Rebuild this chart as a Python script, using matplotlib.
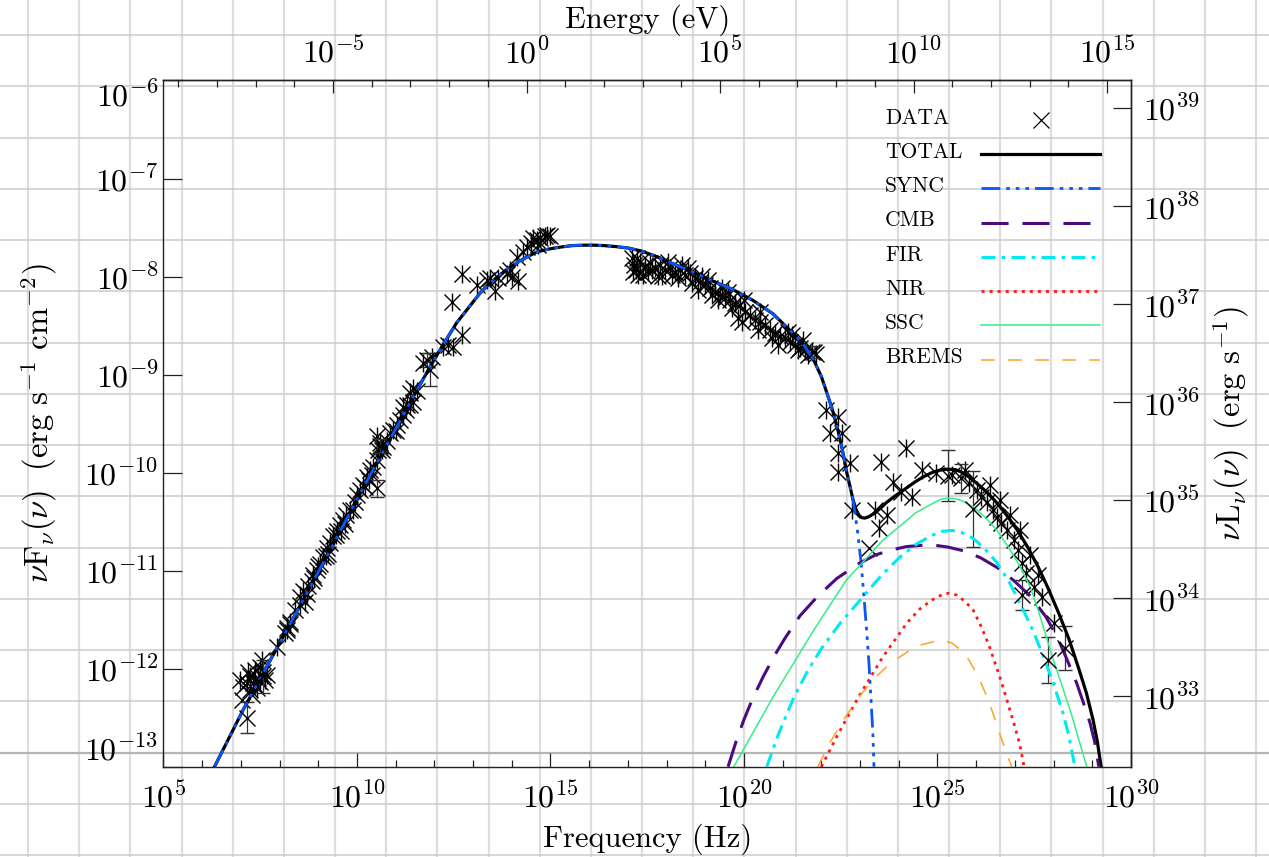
import numpy as np
import matplotlib
matplotlib.use("Agg")
import matplotlib.pyplot as plt
from matplotlib.lines import Line2D
from matplotlib.ticker import FixedLocator, FuncFormatter, NullFormatter, NullLocator

plt.rcParams['font.family'] = ['cmr10', 'DejaVu Serif']
plt.rcParams['mathtext.fontset'] = 'cm'
plt.rcParams['axes.unicode_minus'] = False
plt.rcParams['axes.formatter.use_mathtext'] = True
plt.rcParams['lines.scale_dashes'] = False

PLANCK_EV = 4.1357e-15      # eV s
LOG_4PI_D2 = 45.28          # log10(4 pi d^2), cm^2

# model curves, log10(nu / Hz) and log10(nu F_nu / erg s^-1 cm^-2)
total_lognu = [6.32, 7.06, 8.14, 9.35, 10.03, 10.77, 11.41, 11.89, 12.25, 12.58, 12.90, 13.18,
               13.40, 13.61, 13.90, 14.21, 14.64, 14.95, 15.25, 15.55, 15.86, 16.13, 16.40,
               16.70, 17.02, 17.35, 17.70, 18.11, 18.60, 19.16, 19.70, 20.22, 20.75, 21.27,
               21.55, 21.80, 22.00, 22.12, 22.28, 22.43, 22.54, 22.64, 22.74, 22.82, 22.90,
               22.98, 23.05, 23.12, 23.25, 23.39, 23.55, 23.70, 23.90, 24.12, 24.44, 24.65,
               24.86, 25.06, 25.27, 25.45, 25.60, 25.80, 26.02, 26.28, 26.54, 26.80, 27.07,
               27.33, 27.60, 27.86, 28.13, 28.40, 28.66, 28.85, 29.02, 29.13, 29.23]
total_logf = [-13.00, -12.42, -11.64, -10.76, -10.25, -9.72, -9.26, -8.92, -8.68, -8.47, -8.31,
              -8.17, -8.08, -8.01, -7.92, -7.84, -7.75, -7.72, -7.70, -7.685, -7.68, -7.68,
              -7.685, -7.695, -7.71, -7.74, -7.79, -7.86, -7.94, -8.04, -8.13, -8.24, -8.38,
              -8.58, -8.70, -8.85, -9.02, -9.16, -9.35, -9.57, -9.76, -9.97, -10.14, -10.28,
              -10.38, -10.44, -10.46, -10.465, -10.445, -10.41, -10.355, -10.30, -10.24,
              -10.18, -10.09, -10.04, -10.00, -9.975, -9.965, -9.97, -9.99, -10.04, -10.11,
              -10.20, -10.31, -10.44, -10.59, -10.76, -10.96, -11.18, -11.43, -11.70, -12.01,
              -12.25, -12.52, -12.74, -13.00]

sync_lognu = [6.32, 7.06, 8.14, 9.35, 10.03, 10.77, 11.41, 11.89, 12.25, 12.58, 12.90, 13.18,
              13.40, 13.61, 13.90, 14.21, 14.64, 14.95, 15.25, 15.55, 15.86, 16.13, 16.40,
              16.70, 17.02, 17.35, 17.70, 18.11, 18.60, 19.16, 19.70, 20.22, 20.75, 21.27,
              21.55, 21.80, 22.00, 22.12, 22.28, 22.43, 22.54, 22.64, 22.74, 22.82, 22.93,
              23.03, 23.10, 23.17, 23.23, 23.28, 23.33, 23.36]
sync_logf = [-13.00, -12.42, -11.64, -10.76, -10.25, -9.72, -9.26, -8.92, -8.68, -8.47, -8.31,
             -8.17, -8.08, -8.01, -7.92, -7.84, -7.75, -7.72, -7.70, -7.685, -7.68, -7.68,
             -7.685, -7.695, -7.71, -7.74, -7.79, -7.86, -7.94, -8.04, -8.13, -8.24, -8.38,
             -8.58, -8.70, -8.85, -9.02, -9.16, -9.35, -9.57, -9.76, -9.97, -10.14, -10.28,
             -10.58, -10.93, -11.26, -11.61, -11.94, -12.29, -12.65, -13.00]

cmb_lognu = [19.59, 19.80, 20.00, 20.22, 20.50, 20.80, 21.06, 21.45, 21.91, 22.40, 22.96,
             23.40, 23.80, 24.20, 24.65, 25.00, 25.27, 25.70, 26.12, 26.55, 26.97, 27.40,
             27.80, 28.10, 28.34, 28.60, 28.80, 28.94, 29.06, 29.17]
cmb_logf = [-13.00, -12.74, -12.52, -12.31, -12.08, -11.86, -11.69, -11.46, -11.26, -11.08,
            -10.93, -10.84, -10.79, -10.755, -10.74, -10.745, -10.76, -10.80, -10.87, -10.97,
            -11.10, -11.26, -11.47, -11.68, -11.90, -12.15, -12.38, -12.55, -12.74, -13.00]

fir_lognu = [20.59, 20.90, 21.27, 21.65, 22.01, 22.50, 23.07, 23.55, 24.01, 24.45, 24.86,
             25.12, 25.38, 25.65, 25.92, 26.23, 26.54, 26.86, 27.18, 27.50, 27.80, 28.03,
             28.24, 28.40, 28.55]
fir_logf = [-13.00, -12.66, -12.31, -12.02, -11.79, -11.53, -11.27, -11.05, -10.87, -10.73,
            -10.64, -10.60, -10.59, -10.615, -10.67, -10.78, -10.92, -11.12, -11.37, -11.64,
            -11.94, -12.19, -12.45, -12.69, -13.00]

nir_lognu = [22.00, 22.43, 22.96, 23.59, 24.22, 24.55, 24.86, 25.12, 25.30, 25.50, 25.70,
             25.92, 26.13, 26.33, 26.65, 26.97, 27.12, 27.24]
nir_logf = [-13.00, -12.67, -12.29, -11.88, -11.53, -11.39, -11.30, -11.245, -11.23, -11.25,
            -11.31, -11.40, -11.57, -11.76, -12.13, -12.55, -12.76, -13.00]

ssc_lognu = [19.74, 20.75, 21.80, 22.64, 23.59, 24.44, 24.85, 25.10, 25.27, 25.45, 25.65,
             25.92, 26.22, 26.54, 26.85, 27.18, 27.40, 27.60, 27.80, 28.02, 28.25, 28.45,
             28.68, 28.86]
ssc_logf = [-13.00, -12.29, -11.61, -11.10, -10.69, -10.41, -10.32, -10.27, -10.26, -10.265,
            -10.29, -10.35, -10.45, -10.59, -10.77, -10.99, -11.17, -11.40, -11.66, -11.94,
            -12.21, -12.45, -12.76, -13.00]

brems_lognu = [21.91, 22.20, 22.53, 22.95, 23.39, 23.80, 24.22, 24.60, 24.96, 25.17, 25.38,
               25.60, 25.81, 26.03, 26.23, 26.43, 26.64, 26.80, 26.92]
brems_logf = [-13.00, -12.77, -12.55, -12.30, -12.09, -11.94, -11.83, -11.755, -11.72, -11.715,
              -11.74, -11.81, -11.91, -12.06, -12.24, -12.45, -12.70, -12.88, -13.00]

# measurements (asterisk-like points)
data_lognu = [6.98, 7.24, 7.36, 7.49, 7.57, 7.42, 7.24, 7.16, 7.62, 7.67, 7.55, 7.31, 7.44,
              7.19, 7.36, 7.49, 7.93, 8.14, 8.19, 8.27, 8.53, 8.66,
              8.18, 8.27, 8.53, 8.61, 8.74, 8.83, 8.87, 8.96, 9.04, 9.13, 9.22, 9.30, 9.39,
              9.48, 9.56, 9.65, 9.73, 9.82, 9.95, 10.08, 10.16, 10.25, 10.34, 10.42, 10.51,
              10.55, 10.59, 10.51, 10.68, 10.77, 10.85, 10.94, 11.03, 11.11, 11.20, 11.28,
              11.37, 11.45, 8.90, 9.20, 9.60, 9.90, 10.20, 10.40,
              8.40, 8.70, 9.00, 9.25, 9.45, 9.70, 10.00, 10.30, 10.65, 11.00, 11.30,
              11.20, 11.37, 11.45, 11.54, 11.71, 11.93, 12.23, 12.36, 12.49, 12.71, 12.45,
              12.71, 13.09, 13.35, 13.44, 13.57, 13.65, 13.87, 13.95, 14.00, 14.17, 14.13,
              14.30, 14.39, 14.51, 14.64, 14.73, 14.86, 14.90, 14.99, 14.56, 14.68,
              17.11, 17.16, 17.21, 17.31, 17.44, 17.57, 17.70, 17.83, 17.96, 18.09, 18.22,
              18.35, 18.48, 18.60, 18.73, 18.86, 18.99, 19.12, 19.25, 19.38, 19.51, 19.64,
              19.77, 19.90, 19.85, 19.95, 20.16, 20.28, 20.41, 20.54, 20.67, 20.80, 20.93,
              21.06, 21.19, 21.32, 21.45, 21.58, 21.76, 21.86,
              17.26, 17.52, 17.78, 18.04, 18.29, 18.55, 18.81, 19.07, 19.33, 19.59, 20.03,
              20.36, 20.72, 21.14, 21.40, 21.65,
              17.13, 17.24, 17.39, 17.62, 17.88, 18.14, 18.40, 18.66, 18.91, 19.17, 19.43,
              19.69, 20.00, 20.41, 20.88, 21.24, 21.52,
              22.12, 22.22, 22.43, 22.53, 22.43, 22.74, 22.43, 22.80, 23.39, 23.49, 23.70,
              23.54, 23.85, 24.06, 24.33, 24.19, 24.60, 24.96, 25.38, 25.71, 25.81, 26.02,
              26.12, 26.28, 26.36, 26.43, 26.54, 26.62, 26.64, 26.81, 26.87, 26.97, 27.07,
              27.13, 27.18, 27.29, 27.39, 27.49, 27.60, 27.70, 28.02]
data_logf = [-12.12, -12.08, -12.01, -11.98, -12.03, -12.20, -12.22, -12.15, -12.12, -12.06,
             -11.91, -12.15, -12.10, -12.03, -12.17, -12.14, -11.78, -11.64, -11.59, -11.52,
             -11.35, -11.32,
             -11.61, -11.54, -11.27, -11.21, -11.16, -11.11, -11.04, -10.99, -10.93, -10.86,
             -10.77, -10.72, -10.65, -10.60, -10.53, -10.48, -10.43, -10.38, -10.30, -10.18,
             -10.13, -10.04, -9.97, -9.94, -9.87, -9.77, -9.70, -9.63, -9.74, -9.68, -9.60,
             -9.57, -9.51, -9.46, -9.41, -9.36, -9.31, -9.28, -11.08, -10.85, -10.60, -10.38,
             -10.15, -10.02,
             -11.40, -11.24, -10.95, -10.83, -10.64, -10.52, -10.23, -10.08, -9.77, -9.58, -9.31,
             -9.33, -9.19, -9.14, -9.17, -8.88, -8.82, -8.72, -8.70, -8.72, -8.60, -8.26,
             -7.97, -8.09, -8.04, -8.02, -8.15, -8.02, -7.97, -7.93, -8.00, -8.05, -7.80,
             -7.75, -7.70, -7.66, -7.63, -7.61, -7.59, -7.58, -7.59, -7.61, -7.68,
             -7.81, -7.88, -7.93, -7.85, -7.89, -7.86, -7.91, -7.88, -7.93, -7.91, -7.95,
             -7.93, -7.98, -7.96, -8.01, -8.06, -8.09, -8.12, -8.16, -8.19, -8.22, -8.24,
             -8.27, -8.29, -8.42, -8.46, -8.39, -8.44, -8.46, -8.49, -8.55, -8.58, -8.61,
             -8.63, -8.67, -8.70, -8.73, -8.75, -8.77, -8.79,
             -7.98, -7.95, -7.99, -7.85, -8.01, -7.91, -8.14, -8.04, -8.24, -8.16, -8.36,
             -8.55, -8.63, -8.57, -8.75, -8.80,
             -7.95, -7.81, -7.98, -7.93, -7.99, -7.98, -7.88, -8.07, -7.99, -8.19, -8.12,
             -8.32, -8.24, -8.36, -8.70, -8.60, -8.65,
             -9.36, -9.60, -9.43, -9.60, -9.80, -9.90, -9.99, -10.38, -10.38, -10.57, -10.43,
             -9.89, -10.10, -10.20, -10.25, -9.75, -9.97, -10.00, -10.02, -9.97, -10.11,
             -10.18, -10.25, -10.30, -10.13, -10.38, -10.45, -10.28, -10.51, -10.59, -10.43,
             -10.69, -10.79, -10.59, -10.92, -11.02, -10.84, -11.17, -11.04, -11.27, -11.53]

# plain cross points
cross_lognu = [7.05, 7.03, 7.29, 23.23]
cross_logf = [-12.19, -12.32, -12.27, -10.77]

# points drawn with error bars (half-width in dex)
err_lognu = [7.15, 7.58, 10.51, 10.59, 11.80, 11.89, 21.80, 25.27, 25.60, 25.92, 27.18,
             27.86, 28.29]
err_logf = [-12.50, -12.08, -10.16, -9.73, -8.85, -8.95, -8.77, -10.03, -10.06, -10.37,
            -11.25, -11.91, -11.79]
err_dex = [0.155, 0.17, 0.085, 0.07, 0.07, 0.17, 0.06, 0.26, 0.15, 0.39, 0.15, 0.235, 0.22]

legend_labels = ['DATA', 'TOTAL', 'SYNC', 'CMB', 'FIR', 'NIR', 'SSC', 'BREMS']


def pow10(v, pos):
    return r'$10^{%d}$' % int(round(np.log10(v)))


def main():
    fig = plt.figure(figsize=(12.69, 8.57), dpi=100)

    # graph-paper background
    for k in range(25):
        x = (28 + 51.17 * k) / 1269
        fig.add_artist(Line2D([x, x], [0, 1], transform=fig.transFigure,
                              color='#dddddd', lw=1.6, zorder=-5))
    for k in range(17):
        y = 1 - (35 + 51.25 * k) / 857
        c, w = ('#b4b4b4', 1.6) if k == 14 else ('#cbcbcb', 1.1)
        fig.add_artist(Line2D([0, 1], [y, y], transform=fig.transFigure,
                              color=c, lw=w, zorder=-5))

    ax = fig.add_axes([0.1288, 0.1054, 0.7624, 0.8007])
    ax.set_facecolor('none')
    ax.set_xscale('log')
    ax.set_yscale('log')

    # data
    dn, df = 10.0 ** np.array(data_lognu), 10.0 ** np.array(data_logf)
    ax.plot(dn, df, ls='none', marker='x', ms=12, mew=1.0, color='k')
    ax.plot(dn, df, ls='none', marker='|', ms=13.5, mew=1.0, color='k')
    ax.plot(10.0 ** np.array(cross_lognu), 10.0 ** np.array(cross_logf), ls='none',
            marker='x', ms=12, mew=1.0, color='k')
    en = 10.0 ** np.array(err_lognu)
    ef = 10.0 ** np.array(err_logf)
    lo = ef - 10.0 ** (np.array(err_logf) - np.array(err_dex))
    hi = 10.0 ** (np.array(err_logf) + np.array(err_dex)) - ef
    ax.errorbar(en, ef, yerr=[lo, hi], fmt='x', ms=12, mew=1.0, color='k',
                ecolor='#333333', elinewidth=0.9, capsize=5, capthick=0.9)

    # model curves
    styles = [
        (total_lognu, total_logf, dict(color='k', lw=2.3)),
        (sync_lognu, sync_logf, dict(color='#0a55f5', lw=2.0,
                                     dashes=(13.5, 4.3, 2.6, 4.3, 2.6, 4.3, 2.6, 4.3))),
        (cmb_lognu, cmb_logf, dict(color='#4b0c80', lw=2.2, dashes=(19.5, 10))),
        (fir_lognu, fir_logf, dict(color='#00eaf0', lw=2.2, dashes=(10, 4.5, 2.6, 4.5))),
        (nir_lognu, nir_logf, dict(color='#ff1a1a', lw=2.0, dashes=(2.2, 3.6))),
        (ssc_lognu, ssc_logf, dict(color='#33ee88', lw=1.1)),
        (brems_lognu, brems_logf, dict(color='#ffa126', lw=1.1, dashes=(10, 9.5))),
    ]
    for lognu, logf, kw in styles:
        ax.plot(10.0 ** np.array(lognu), 10.0 ** np.array(logf), **kw)

    ax.set_xlim(1e5, 1e30)
    ax.set_ylim(1e-13, 1e-6)

    # hand-made legend: label on the left, sample on the right
    y0, dy = 0.9425, 0.0499
    for i, lab in enumerate(legend_labels):
        y = y0 - i * dy
        ax.text(0.7457, y + 0.003, lab, transform=ax.transAxes, fontsize=15.5,
                ha='left', va='center')
        if i == 0:
            ax.plot([0.907], [y], transform=ax.transAxes, marker='x', ms=11,
                    mew=0.9, color='k', ls='none')
        else:
            kw = styles[i - 1][2]
            ax.plot([0.845, 0.9685], [y, y], transform=ax.transAxes, **kw)

    # axes and ticks
    for s in ax.spines.values():
        s.set_linewidth(1.0)
        s.set_color('#222222')
    ax.xaxis.set_major_locator(FixedLocator(10.0 ** np.arange(5, 31, 5)))
    ax.xaxis.set_minor_locator(FixedLocator(10.0 ** np.arange(5, 31)))
    ax.xaxis.set_major_formatter(FuncFormatter(pow10))
    ax.xaxis.set_minor_formatter(NullFormatter())
    ax.yaxis.set_major_locator(FixedLocator(10.0 ** np.arange(-13, -5)))
    ax.yaxis.set_minor_locator(NullLocator())
    ax.yaxis.set_major_formatter(FuncFormatter(pow10))
    ax.tick_params(axis='x', which='major', direction='in', length=10, width=0.9,
                   labelsize=23, pad=11, top=False, color='#222222')
    ax.tick_params(axis='x', which='minor', direction='in', length=5, width=0.9,
                   top=False, color='#222222')
    ax.tick_params(axis='y', which='major', direction='in', length=14, width=0.9,
                   labelsize=23, pad=3.5, right=False, color='#222222')

    ax.set_xlabel('Frequency (Hz)', fontsize=22)
    ax.xaxis.set_label_coords(0.5, -0.0835)
    ax.set_ylabel(r'$\nu\mathrm{F}_{\nu}(\nu)\ \ (\mathrm{erg\ s^{-1}\ cm^{-2}})$', fontsize=23.5)
    ax.yaxis.set_label_coords(-0.1075, 0.5)

    sx = ax.secondary_xaxis('top', functions=(lambda nu: nu * PLANCK_EV,
                                              lambda e: e / PLANCK_EV))
    sx.xaxis.set_major_locator(FixedLocator(10.0 ** np.arange(-5, 16, 5)))
    sx.xaxis.set_minor_locator(FixedLocator(10.0 ** np.arange(-9, 16)))
    sx.xaxis.set_major_formatter(FuncFormatter(pow10))
    sx.xaxis.set_minor_formatter(NullFormatter())
    sx.tick_params(which='major', direction='in', length=9.5, width=0.9,
                   labelsize=23, pad=8, color='#222222')
    sx.tick_params(which='minor', direction='in', length=5, width=0.9, color='#222222')
    sx.set_xlabel('Energy (eV)', fontsize=22)
    sx.xaxis.set_label_coords(0.5, 1.0766, transform=ax.transAxes)

    k = 10.0 ** LOG_4PI_D2
    sy = ax.secondary_yaxis('right', functions=(lambda f: f * k, lambda l: l / k))
    sy.yaxis.set_major_locator(FixedLocator(10.0 ** np.arange(33, 40)))
    sy.yaxis.set_minor_locator(NullLocator())
    sy.yaxis.set_major_formatter(FuncFormatter(pow10))
    sy.tick_params(which='major', direction='in', length=13, width=0.9,
                   labelsize=23, pad=9, color='#222222')
    sy.set_ylabel(r'$\nu\mathrm{L}_{\nu}(\nu)\ \ (\mathrm{erg\ s^{-1}})$', fontsize=23.5)
    sy.yaxis.set_label_coords(1.0816, 0.5, transform=ax.transAxes)
    for s in list(sx.spines.values()) + list(sy.spines.values()):
        s.set_linewidth(1.0)
        s.set_color('#222222')

    # the end labels of the left axis sit inside the axis span
    yticks = ax.yaxis.get_major_ticks()
    yticks[0].label1.set_verticalalignment('bottom')
    yticks[-1].label1.set_verticalalignment('top')

    fig.savefig('out.png', dpi=100)


if __name__ == "__main__":
    main()
